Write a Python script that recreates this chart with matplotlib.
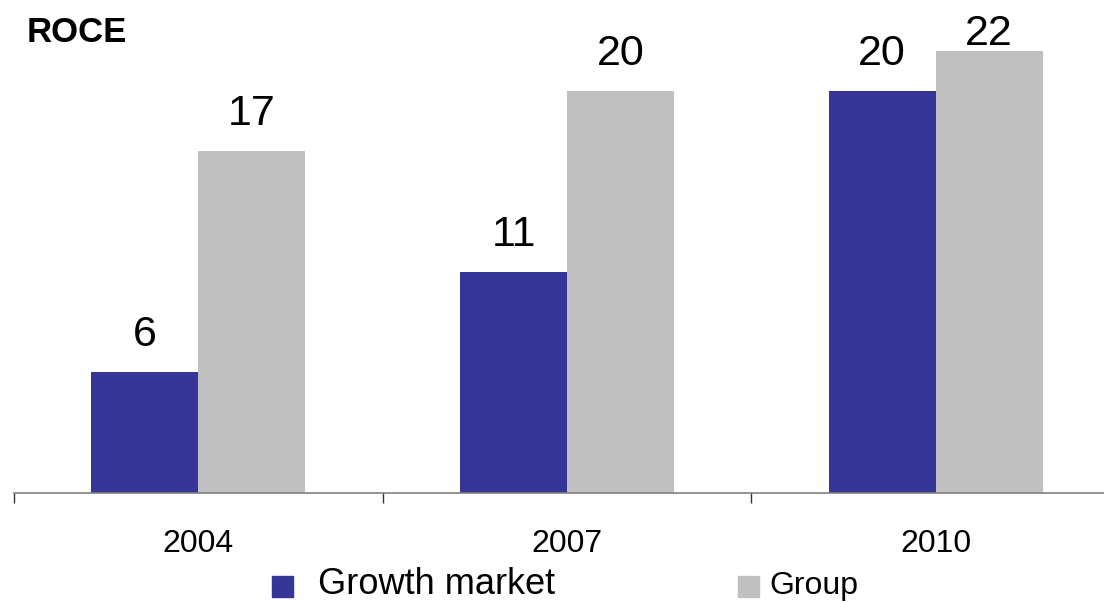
import matplotlib.pyplot as plt
from matplotlib.patches import Rectangle
import numpy as np

plt.rcParams['font.family'] = ['Liberation Sans', 'DejaVu Sans']

years = ["2004", "2007", "2010"]
series = ["Growth market", "Group"]
growth_market = [6, 11, 20]
group = [17, 20, 22]

colors = ["#363699", "#C0C0C0"]
axis_grey = "#808080"

fig = plt.figure(figsize=(11.04, 6.02), dpi=100)
ax = fig.add_axes([14 / 1104, 109 / 602, 1106 / 1104, 24 * 20.1 / 602])

x = np.arange(len(years))
w = 0.29
bars_gm = ax.bar(x - w / 2, growth_market, w, color=colors[0])
bars_gr = ax.bar(x + w / 2, group, w, color=colors[1])

ax.set_xlim(-0.5, len(years) - 0.5)
ax.set_ylim(0, 24)

# value labels above bars, kept inside the plot area at the top
for bars, vals in [(bars_gm, growth_market), (bars_gr, group)]:
    for b, v in zip(bars, vals):
        ax.text(b.get_x() + b.get_width() / 2, min(v + 1.3, 22.3), f"{v}",
                ha="center", va="baseline", fontsize=31, color="black")

for s in ["top", "right", "left"]:
    ax.spines[s].set_visible(False)
ax.spines["bottom"].set_color(axis_grey)
ax.spines["bottom"].set_linewidth(1.2)
ax.set_yticks([])

ax.set_xticks(x)
ax.set_xticklabels(years, fontsize=23)
ax.tick_params(axis="x", which="major", length=0, pad=26)
ax.set_xticks(np.arange(-0.5, len(years)), minor=True)
ax.tick_params(axis="x", which="minor", length=7.5, width=1, color="#333333",
               direction="out")

fig.text(27 / 1104, 1 - 42 / 602, "ROCE", fontsize=25, fontweight="bold",
         va="baseline", ha="left")

# legend drawn in figure space
leg = [(272, 318, series[0], 26), (738, 769, series[1], 23)]
for (px, tx, label, fs), c in zip(leg, colors):
    fig.patches.append(Rectangle((px / 1104, 1 - 597 / 602), 21 / 1104, 21 / 602,
                                 transform=fig.transFigure, color=c))
    fig.text(tx / 1104, 1 - 594 / 602, label,
             fontsize=fs, ha="left", va="baseline")

fig.savefig("out.png", dpi=100)
